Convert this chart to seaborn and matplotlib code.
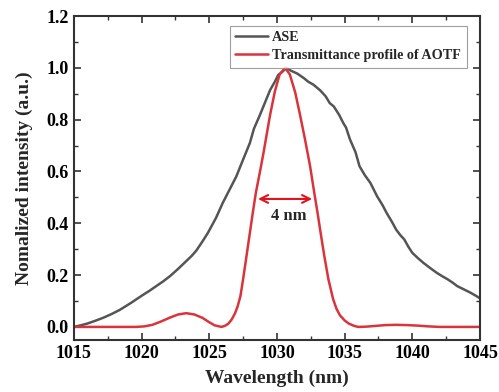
import numpy as np
import pandas as pd
import matplotlib
matplotlib.use('Agg')
import matplotlib.pyplot as plt
import seaborn as sns
from matplotlib.ticker import MultipleLocator

# ASE spectrum
ase_wl = [1015.0, 1015.5, 1016.0, 1016.6, 1017.2, 1017.8, 1018.4, 1019.2, 1020.0, 1020.6,
          1021.1, 1021.6, 1022.1, 1022.7, 1023.3, 1023.7, 1024.05, 1024.5, 1024.9, 1025.5,
          1026.0, 1026.5, 1027.0, 1027.5, 1028.0, 1028.3, 1028.75, 1029.1, 1029.5, 1029.85,
          1030.1, 1030.4, 1030.7, 1031.0, 1031.5, 1032.0, 1032.3, 1032.7, 1033.2, 1033.6,
          1033.9, 1034.2, 1034.6, 1034.9, 1035.1, 1035.4, 1035.8, 1036.1, 1036.5, 1036.9,
          1037.4, 1037.8, 1038.1, 1038.5, 1038.8, 1039.1, 1039.4, 1039.7, 1040.0, 1040.4,
          1040.8, 1041.3, 1041.8, 1042.2, 1042.6, 1043.0, 1043.3, 1043.8, 1044.3, 1044.7,
          1045.0]
ase_val = [0.0, 0.006, 0.013, 0.024, 0.036, 0.05, 0.066, 0.092, 0.12, 0.14,
           0.158, 0.176, 0.196, 0.224, 0.254, 0.274, 0.295, 0.33, 0.363, 0.421,
           0.479, 0.53, 0.581, 0.646, 0.71, 0.765, 0.819, 0.864, 0.915, 0.947,
           0.973, 0.985, 1.0, 0.99, 0.978, 0.96, 0.947, 0.935, 0.913, 0.89,
           0.864, 0.851, 0.818, 0.787, 0.77, 0.723, 0.675, 0.62, 0.585, 0.556,
           0.504, 0.47, 0.44, 0.405, 0.376, 0.355, 0.338, 0.31, 0.286, 0.266,
           0.248, 0.228, 0.209, 0.196, 0.184, 0.17, 0.158, 0.145, 0.132, 0.12,
           0.11]

# AOTF transmittance profile
aotf_wl = [1015.0, 1018.0, 1019.6, 1020.2, 1020.8, 1021.4, 1022.1, 1022.7, 1023.3, 1023.9,
           1024.5, 1025.0, 1025.4, 1025.9, 1026.15, 1026.4, 1026.65, 1026.9, 1027.1, 1027.3,
           1027.5, 1027.75, 1028.0, 1028.25, 1028.45, 1028.75, 1029.0, 1029.25, 1029.5, 1029.85,
           1030.2, 1030.6, 1030.95, 1031.35, 1031.7, 1032.05, 1032.45, 1032.75, 1033.0, 1033.25,
           1033.5, 1033.8, 1034.15, 1034.4, 1034.65, 1035.0, 1035.3, 1035.7, 1036.0, 1036.6,
           1037.3, 1038.0, 1038.8, 1039.6, 1040.4, 1041.2, 1042.0, 1045.0]
aotf_val = [0.0, 0.0, 0.0, 0.002, 0.008, 0.02, 0.036, 0.048, 0.053, 0.048,
            0.035, 0.018, 0.006, 0.0, 0.004, 0.012, 0.028, 0.052, 0.08, 0.118,
            0.184, 0.273, 0.363, 0.453, 0.52, 0.6, 0.67, 0.745, 0.82, 0.91,
            0.975, 1.0, 0.975, 0.905, 0.82, 0.73, 0.62, 0.52, 0.44, 0.355,
            0.273, 0.184, 0.107, 0.07, 0.045, 0.025, 0.013, 0.004, 0.0, 0.001,
            0.004, 0.007, 0.008, 0.007, 0.005, 0.002, 0.0, 0.0]

ase_df = pd.DataFrame({'wl': ase_wl, 'val': ase_val})
aotf_df = pd.DataFrame({'wl': aotf_wl, 'val': aotf_val})

fwhm_left, fwhm_right, fwhm_level = 1028.6, 1032.6, 0.494

sns.set_theme(style="ticks")
plt.rcParams['font.family'] = ['Liberation Serif', 'DejaVu Serif']
plt.rcParams['font.weight'] = 'bold'

fig = plt.figure(figsize=(4.99, 3.92), dpi=100)
ax = fig.add_axes([0.148, 0.133, 0.814, 0.826])

sns.lineplot(data=ase_df, x='wl', y='val', ax=ax, color='#555555', lw=1.8, label='ASE')
sns.lineplot(data=aotf_df, x='wl', y='val', ax=ax, color='#d9343b', lw=1.8,
             label='Transmittance profile of AOTF')

ax.annotate('', xy=(fwhm_left, fwhm_level), xytext=(fwhm_right, fwhm_level),
            arrowprops=dict(arrowstyle='<->', color='#e0141e', lw=1.5,
                            mutation_scale=14, shrinkA=0, shrinkB=0))
ax.text((fwhm_left + fwhm_right) / 2 + 0.3, 0.43, '4 nm', ha='center', va='center',
        fontsize=12, fontweight='bold')

ax.set_xlim(1015, 1045)
ax.set_ylim(-0.05, 1.2)
ax.xaxis.set_major_locator(MultipleLocator(5))
ax.xaxis.set_minor_locator(MultipleLocator(2.5))
ax.yaxis.set_major_locator(MultipleLocator(0.2))
ax.yaxis.set_minor_locator(MultipleLocator(0.1))
ax.yaxis.set_major_formatter(plt.FormatStrFormatter('%.1f'))
ax.tick_params(which='both', direction='in', top=True, right=True, colors='#333333',
               labelcolor='black', labelsize=13)
ax.tick_params(which='major', length=5, width=1.2)
ax.tick_params(which='minor', length=3, width=1.0)
for s in ax.spines.values():
    s.set_linewidth(1.5)
    s.set_color('#333333')

ax.set_xlabel('Wavelength (nm)', fontsize=14, fontweight='bold', labelpad=6)
ax.set_ylabel('Nomalized intensity (a.u.)', fontsize=14, fontweight='bold', labelpad=10)

leg = ax.legend(loc='upper right', bbox_to_anchor=(0.967, 0.97), fontsize=10.2,
                frameon=True, fancybox=False, handlelength=2.3, borderpad=0.4,
                labelspacing=0.35, handletextpad=0.3, borderaxespad=0)
leg.get_frame().set_edgecolor('#888888')
leg.get_frame().set_linewidth(0.8)
for t in leg.get_texts():
    t.set_fontweight('bold')

fig.savefig('out.png', dpi=100)
